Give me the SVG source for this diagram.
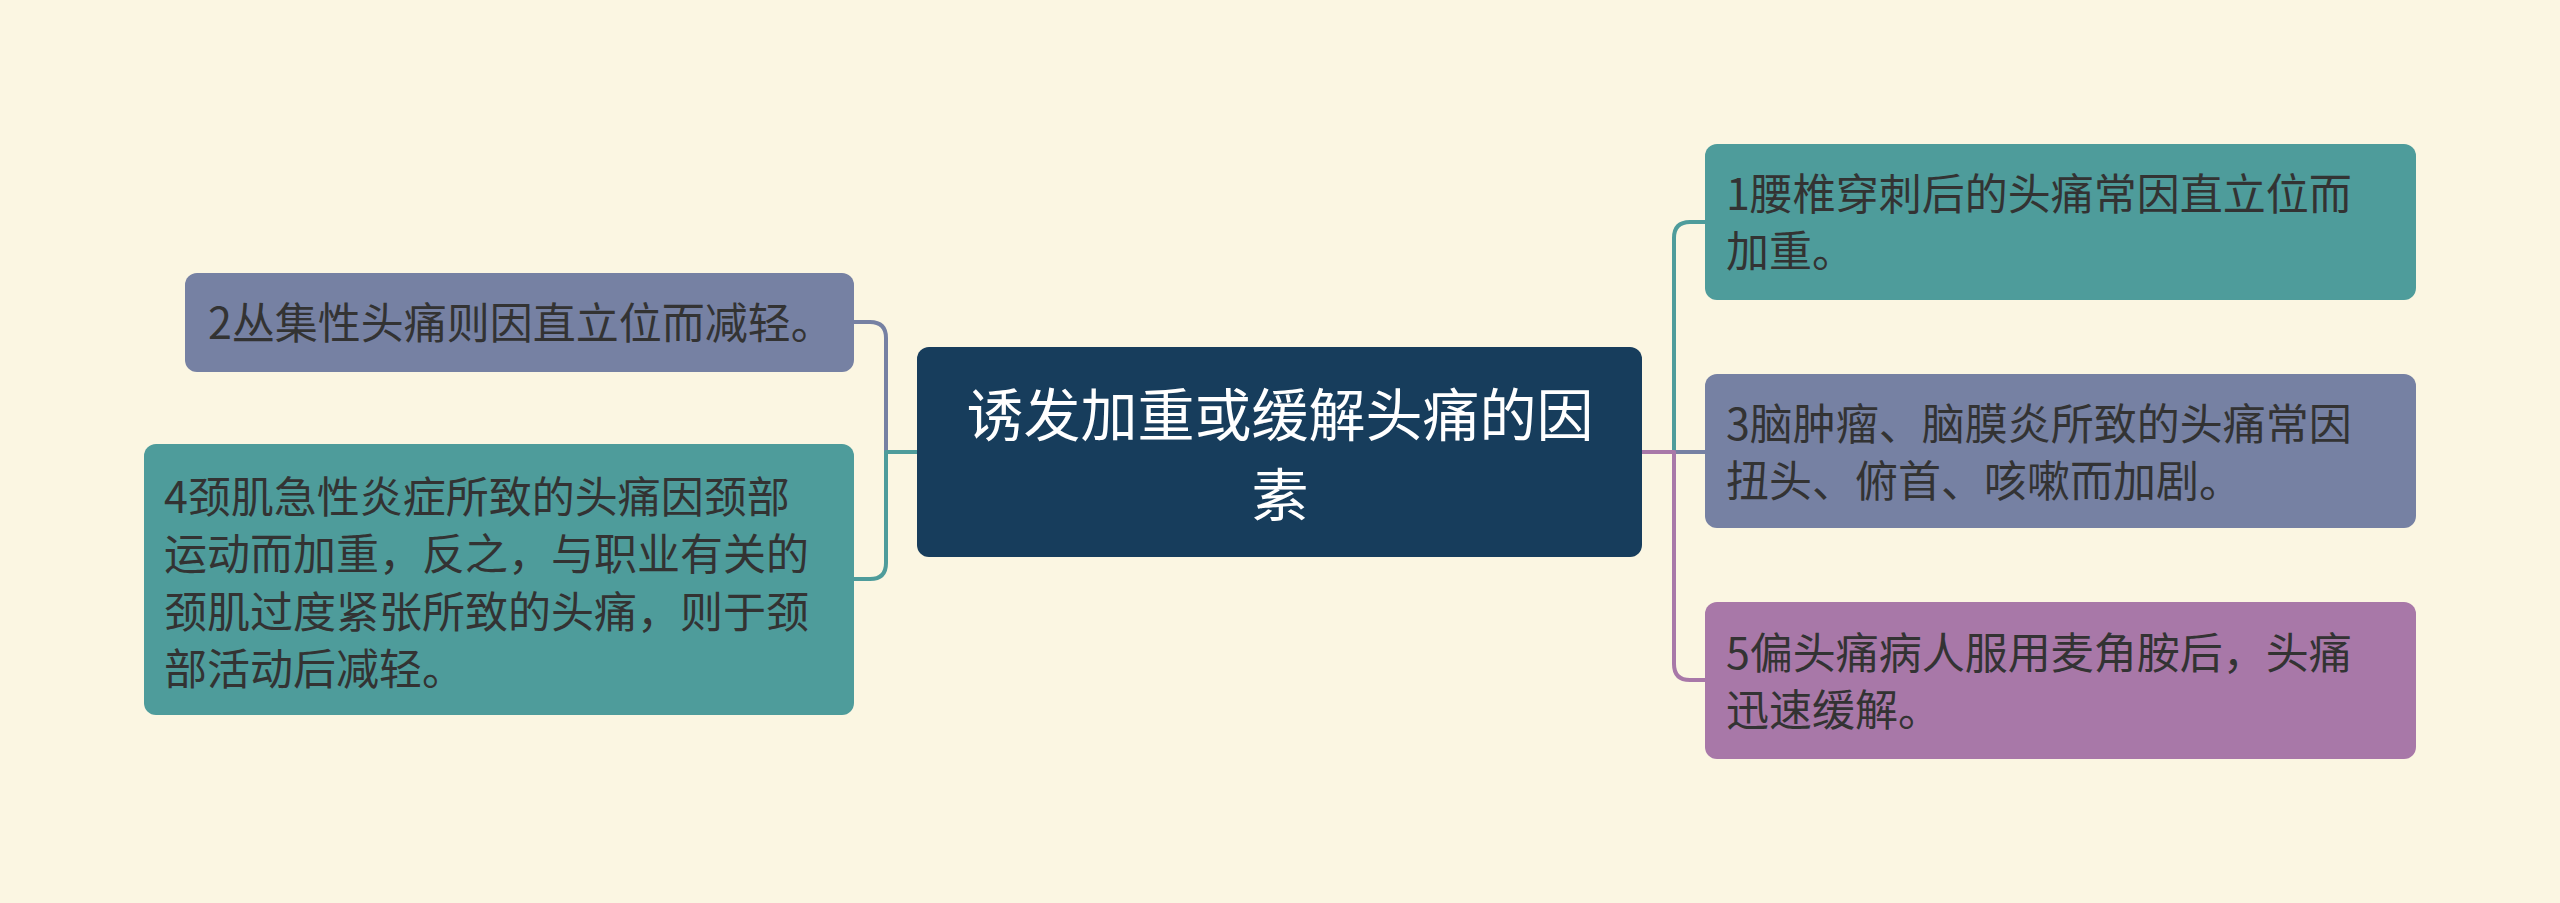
<svg xmlns="http://www.w3.org/2000/svg" width="2560" height="903" viewBox="0 0 2560 903">
<style>
.bg{fill:#FBF6E2}
.teal{fill:#4E9C9B}
.slate{fill:#7681A3}
.purple{fill:#A878A8}
.center{fill:#173D5C}
.t{font-family:"Noto Sans CJK SC","Noto Sans",sans-serif;font-size:43px;fill:#333333}
.ct{font-family:"Noto Sans CJK SC","Noto Sans",sans-serif;font-size:57px;fill:#FFFFFF;text-anchor:middle}
.c{fill:none;stroke-width:4;stroke-linejoin:round}
</style>
<rect class="bg" x="0" y="0" width="2560" height="903"/>
<g id="connectors">
<path class="c" stroke="#7681A3" d="M917,452 H886 V338 Q886,322 870,322 H854"/>
<path class="c" stroke="#4E9C9B" d="M917,452 H886 V563 Q886,579 870,579 H854"/>
<path class="c" stroke="#4E9C9B" d="M1642,452 H1674 V238 Q1674,222 1690,222 H1706"/>
<path class="c" stroke="#7681A3" d="M1642,452 H1706"/>
<path class="c" stroke="#A878A8" d="M1642,452 H1674 V664 Q1674,680 1690,680 H1706"/>
</g>
<g id="central">
<rect class="center" x="917" y="347" width="725" height="210" rx="12"/>
<text class="ct" x="1280" y="436">诱发加重或缓解头痛的因</text>
<text class="ct" x="1280" y="516">素</text>
</g>
<g id="node2">
<rect class="slate" x="185" y="273" width="669" height="99" rx="12"/>
<text class="t" x="208" y="339">2丛集性头痛则因直立位而减轻。</text>
</g>
<g id="node4">
<rect class="teal" x="144" y="444" width="710" height="271" rx="12"/>
<text class="t" x="164" y="513">4颈肌急性炎症所致的头痛因颈部</text>
<text class="t" x="164" y="570">运动而加重，反之，与职业有关的</text>
<text class="t" x="164" y="628">颈肌过度紧张所致的头痛，则于颈</text>
<text class="t" x="164" y="685">部活动后减轻。</text>
</g>
<g id="node1">
<rect class="teal" x="1705" y="144" width="711" height="156" rx="12"/>
<text class="t" x="1726" y="210">1腰椎穿刺后的头痛常因直立位而</text>
<text class="t" x="1726" y="267">加重。</text>
</g>
<g id="node3">
<rect class="slate" x="1705" y="374" width="711" height="154" rx="12"/>
<text class="t" x="1726" y="440">3脑肿瘤、脑膜炎所致的头痛常因</text>
<text class="t" x="1726" y="497">扭头、俯首、咳嗽而加剧。</text>
</g>
<g id="node5">
<rect class="purple" x="1705" y="602" width="711" height="157" rx="12"/>
<text class="t" x="1726" y="669">5偏头痛病人服用麦角胺后，头痛</text>
<text class="t" x="1726" y="726">迅速缓解。</text>
</g>
</svg>
